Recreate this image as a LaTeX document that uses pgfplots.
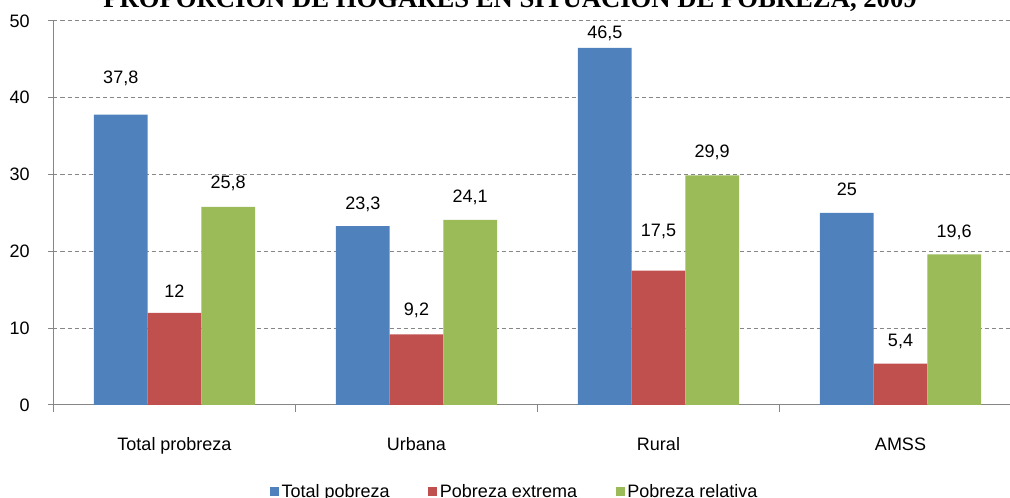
\documentclass[border=0pt]{standalone}
\usepackage{pgfplots}
\pgfplotsset{compat=1.18}
\usepackage{pgfplotstable}
\usepackage{fontspec}
\setmainfont{Liberation Sans}
\newfontfamily\titlefont{Liberation Serif}
\definecolor{cblue}{HTML}{4F81BD}
\definecolor{cred}{HTML}{C0504D}
\definecolor{cgreen}{HTML}{9BBB59}
\definecolor{cgrid}{HTML}{868686}
\newcommand\lbl{\fontsize{13.5}{16}\selectfont}

\pgfplotstableread{
x y off
0 37.8 27
1 23.3 16.5
2 46.5 11.25
3 25 18
}\totalp
\pgfplotstableread{
x y off
0 12 16.5
1 9.2 18
2 17.5 29.25
3 5.4 16.5
}\extp
\pgfplotstableread{
x y off
0 25.8 17.25
1 24.1 17.25
2 29.9 17.25
3 19.6 16.5
}\relp

\begin{document}
\begin{tikzpicture}
\path[use as bounding box] (0,0) rectangle (757.5pt,373.5pt);
\node[font=\titlefont\bfseries\fontsize{20}{24}\selectfont, anchor=base, inner sep=0pt] at (382.5pt,367.5pt) {PROPORCIÓN DE HOGARES EN SITUACIÓN DE POBREZA, 2009};
\begin{axis}[
  at={(40.125pt,69.75pt)}, anchor=south west,
  scale only axis, width=717.375pt, height=288pt,
  ybar=0pt, bar width=40.3pt,
  xmin=-0.5, xmax=3.4525, ymin=0, ymax=50,
  axis x line*=bottom, axis y line*=left,
  axis line style={draw=cgrid, line width=0.75pt, -},
  xtick={0,1,2,3},
  xticklabels={Total probreza, Urbana, Rural, AMSS},
  minor xtick={-0.5,0.5,1.5,2.5},
  ytick={0,10,20,30,40,50},
  tick align=outside,
  major tick length=3.75pt, minor tick length=5.25pt,
  major x tick style={draw=none},
  minor x tick style={draw=cgrid, line width=0.75pt},
  major y tick style={draw=cgrid, line width=0.75pt},
  ymajorgrids,
  grid style={draw=cgrid, line width=0.75pt, dash pattern=on 3pt off 2.25pt},
  /pgf/number format/assume math mode=true,
  /pgf/number format/use comma,
  /pgf/number format/1000 sep={},
  ticklabel style={font=\lbl, text=black},
  xticklabel style={anchor=base, inner sep=0pt, yshift=-30.75pt},
  yticklabel style={anchor=east, inner sep=0pt, xshift=-13.9pt},
  nodes near coords,
  visualization depends on={\thisrow{off} \as \myoff},
  every node near coord/.append style={font=\lbl, text=black, anchor=center, inner sep=0pt, yshift=\myoff pt},
  legend columns=3,
  legend style={at={(0.4825,-0.2253)}, anchor=center, draw=none, fill=none,
    font=\lbl, inner sep=0pt,
    /tikz/every even column/.append style={column sep=27pt}},
  legend image code/.code={\fill[#1] (0pt,-3.4pt) rectangle (6.75pt,3.4pt);},
]
\addplot[fill=cblue, draw=none] table[x=x, y=y] {\totalp};
\addplot[fill=cred, draw=none] table[x=x, y=y] {\extp};
\addplot[fill=cgreen, draw=none] table[x=x, y=y] {\relp};
\legend{Total pobreza, Pobreza extrema, Pobreza relativa}
\end{axis}
\end{tikzpicture}
\end{document}
